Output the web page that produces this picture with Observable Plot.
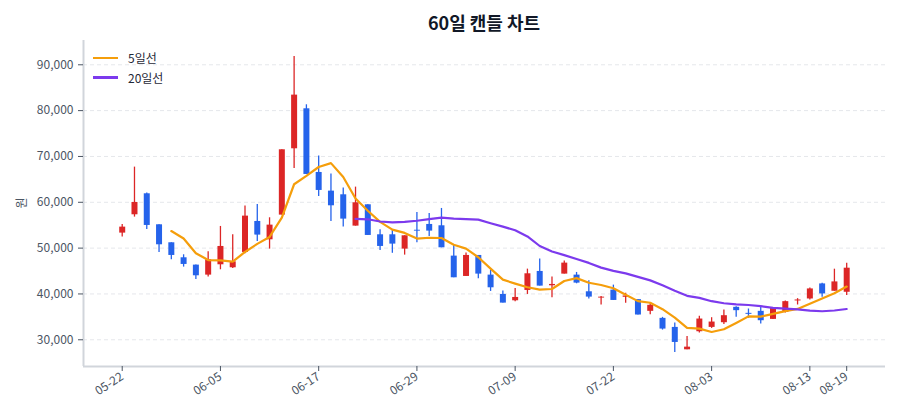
<!DOCTYPE html>
<html>
<head>
<meta charset="utf-8">
<script src="https://cdn.jsdelivr.net/npm/d3@7"></script>
<script src="https://cdn.jsdelivr.net/npm/@observablehq/plot@0.6"></script>
<style>
  html, body { margin: 0; padding: 0; background: #fff; }
  #wrap { position: relative; width: 900px; height: 420px; font-family: 'Noto Sans CJK KR', 'Noto Sans', sans-serif; }
  #title { height: 40px; line-height: 45px; padding-left: 83px; padding-right: 15px; text-align: center; font-size: 18px; font-weight: 700; color: #111827; box-sizing: border-box; }
  #legend { position: absolute; left: 93px; top: 48px; font-size: 12px; color: #1f2937; }
  #legend .row { display: flex; align-items: center; height: 19.5px; }
  #legend .sw { width: 25px; height: 2.5px; margin-right: 10px; }
  #ylabel { position: absolute; left: 20px; top: 203px; transform: translate(-50%, -50%) rotate(-90deg); font-size: 12px; color: #4b5563; white-space: nowrap; }
</style>
</head>
<body>
<div id="wrap">
  <div id="title">60일 캔들 차트</div>
  <div id="chart"></div>
  <div id="legend"></div>
  <div id="ylabel"></div>
</div>
<script>
const dates = ["05-22","05-23","05-26","05-27","05-28","05-29","06-02","06-04","06-05",
  "06-06","06-09","06-10","06-11","06-12","06-13","06-16","06-17",
  "06-18","06-19","06-20","06-23","06-24","06-25","06-26","06-29",
  "06-30","07-01","07-02","07-03","07-04","07-07","07-08","07-09",
  "07-10","07-11","07-14","07-15","07-16","07-17","07-18","07-22",
  "07-23","07-24","07-25","07-28","07-29","07-30","07-31","08-03",
  "08-04","08-05","08-06","08-07","08-08","08-11","08-12","08-13",
  "08-14","08-18","08-19"];
const opens = [53273,57273,61855,55091,51164,47891,46291,44109,46364,45709,
  49055,55818,51818,57200,71673,80400,66509,62436,61636,54800,
  59455,52909,52909,49782,53900,55164,54873,48255,43818,48400,
  44109,39891,38509,40764,44909,41782,44327,44109,40473,39100,
  40836,39271,38760,36205,34672,32701,27810,31752,32701,33723,
  37081,35767,36205,34450,35986,38468,38906,42191,40585,40366];
const highs = [55164,67673,62000,55091,51164,48545,46291,49200,54727,52909,
  59164,59527,56618,71455,91818,81273,70073,66145,63091,63309,
  59455,54000,53855,52691,57782,57564,58655,50655,48909,48400,
  45200,40618,41200,45418,47600,43673,47164,44691,42873,39455,
  41927,40147,38760,37957,34891,33650,30730,35110,34818,36497,
  37227,36716,37081,36935,38468,38979,41315,42337,45403,46717];
const lows = [52400,56764,54073,49055,47455,45855,43164,43673,45273,45564,
  48764,51455,49782,57200,67382,66073,61273,55818,54582,54800,
  52764,49491,48873,48473,51164,52545,50073,43527,43818,43309,
  40545,38000,38291,39891,41709,39164,44327,42218,38873,37564,
  38582,37957,35402,35475,32117,27226,27810,31460,32482,33358,
  34891,34672,33431,34450,35840,37592,38687,39271,40585,39636];
const closes = [54582,59964,54945,50727,48400,46436,43964,47455,50364,47018,
  56982,52836,55018,71455,83382,66073,62582,59236,56327,59891,
  52764,50364,50873,52691,53700,53709,50073,43527,48400,44327,
  41345,38000,39236,44400,41709,42073,46727,42364,39309,39300,
  38582,39563,35402,37519,32336,29416,28394,34526,33869,35256,
  36351,35548,34161,36935,38322,38687,41096,40001,42629,45622];
const tickIdx = [0,8,16,24,32,40,48,56,59];
const yTicks = [30000,40000,50000,60000,70000,80000,90000];
const yLabel = "원";
const maSeries = [{name: "5일선", k: 5, color: "#f59e0b"}, {name: "20일선", k: 20, color: "#7c3aed"}];

const UP = "#dc2626", DOWN = "#2563eb";
const xDomain = [-3.152, 62.16];
const yDomain = [24170, 95300];

const data = dates.map((d, i) => ({i, date: d, open: opens[i], high: highs[i], low: lows[i], close: closes[i]}));
const colorOf = d => d.close >= d.open ? UP : DOWN;

const maMarks = maSeries.map(s => Plot.line(data, Plot.windowY({
  k: s.k, anchor: "end", strict: true,
  reduce: v => { const f = v.filter(x => x != null && !isNaN(x)); return f.length < s.k ? NaN : d3.mean(f); }
}, {x: "i", y: "close", stroke: s.color, strokeWidth: 2.2, curve: "linear"})));

const chart = Plot.plot({
  width: 900,
  height: 380,
  marginTop: 0,
  marginBottom: 54,
  marginLeft: 83,
  marginRight: 15,
  style: {fontFamily: "'Noto Sans CJK KR', 'Noto Sans', sans-serif", fontSize: "12px", color: "#4b5563", background: "#fff"},
  x: {type: "linear", domain: xDomain},
  y: {domain: yDomain},
  color: {type: "identity"},
  marks: [
    Plot.gridY(yTicks, {stroke: "#e5e7eb", strokeOpacity: 1, strokeDasharray: "4,3"}),
    Plot.ruleX([xDomain[0]], {stroke: "#d1d5db", strokeWidth: 2}),
    Plot.ruleY([yDomain[0]], {stroke: "#d1d5db", strokeWidth: 2}),
    Plot.axisY(yTicks, {tickFormat: d3.format(","), tickSize: 5, tickPadding: 5, label: null, fontSize: 12}),
    Plot.axisX(tickIdx, {tickFormat: i => dates[i], tickRotate: -33, tickSize: 5, tickPadding: 4, label: null, fontSize: 12}),
    Plot.ruleX(data, {x: "i", y1: "low", y2: "high", stroke: colorOf, strokeWidth: 1.3}),
    Plot.ruleX(data, {x: "i", y1: "open", y2: "close", stroke: colorOf, strokeWidth: 6}),
    ...maMarks
  ]
});
document.getElementById("chart").appendChild(chart);
document.getElementById("ylabel").textContent = yLabel;

const legend = document.getElementById("legend");
maSeries.forEach(s => {
  const row = document.createElement("div");
  row.className = "row";
  const sw = document.createElement("div");
  sw.className = "sw";
  sw.style.background = s.color;
  const t = document.createElement("span");
  t.textContent = s.name;
  row.appendChild(sw); row.appendChild(t);
  legend.appendChild(row);
});
</script>
</body>
</html>
